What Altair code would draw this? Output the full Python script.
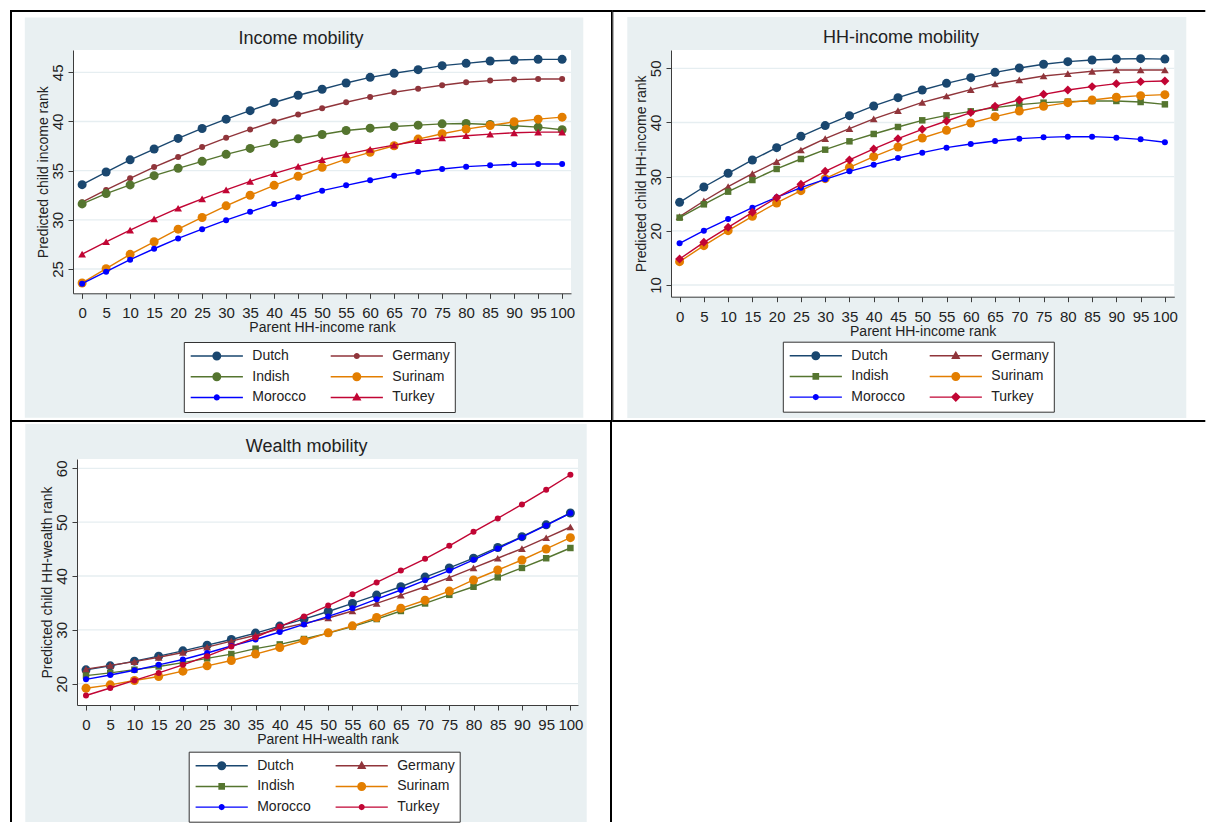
import altair as alt
import pandas as pd

# Parent rank (x) and the series drawn in every panel
RANKS = list(range(0, 101, 5))
SERIES = ["Dutch", "Germany", "Indish", "Surinam", "Morocco", "Turkey"]

# Income mobility: predicted child income rank
inc_dutch = [33.58, 34.86, 36.10, 37.20, 38.28, 39.29, 40.24, 41.10, 41.93, 42.67, 43.28,
             43.92, 44.49, 44.90, 45.27, 45.68, 45.91, 46.15, 46.25, 46.32, 46.32]
inc_germany = [31.79, 33.04, 34.22, 35.37, 36.39, 37.40, 38.34, 39.19, 40.00, 40.71, 41.35,
               41.96, 42.50, 42.97, 43.34, 43.68, 43.99, 44.16, 44.26, 44.32, 44.32]
inc_indish = [31.62, 32.67, 33.55, 34.49, 35.24, 35.95, 36.66, 37.26, 37.77, 38.24, 38.68,
              39.09, 39.32, 39.49, 39.63, 39.76, 39.80, 39.70, 39.56, 39.43, 39.16]
inc_surinam = [23.58, 25.03, 26.49, 27.77, 29.05, 30.24, 31.42, 32.50, 33.51, 34.43, 35.34,
               36.18, 36.86, 37.53, 38.21, 38.75, 39.22, 39.59, 39.97, 40.24, 40.44]
inc_morocco = [23.51, 24.73, 25.95, 27.06, 28.11, 29.05, 29.97, 30.81, 31.62, 32.30, 32.97,
               33.51, 34.02, 34.49, 34.86, 35.17, 35.41, 35.54, 35.64, 35.68, 35.68]
inc_turkey = [26.52, 27.77, 28.95, 30.10, 31.18, 32.13, 33.04, 33.92, 34.70, 35.44, 36.11,
              36.66, 37.16, 37.60, 38.04, 38.34, 38.55, 38.72, 38.85, 38.92, 38.92]

# HH-income mobility: predicted child household income rank
hh_dutch = [25.26, 28.09, 30.62, 33.08, 35.35, 37.45, 39.42, 41.26, 43.05, 44.58, 46.00,
            47.23, 48.28, 49.26, 50.06, 50.74, 51.23, 51.54, 51.72, 51.78, 51.70]
hh_germany = [22.62, 25.51, 28.15, 30.55, 32.77, 34.92, 37.02, 38.86, 40.65, 42.18, 43.72,
              44.89, 46.06, 47.11, 47.85, 48.58, 49.02, 49.45, 49.69, 49.69, 49.69]
hh_indish = [22.43, 24.89, 27.23, 29.38, 31.42, 33.26, 34.98, 36.52, 37.88, 39.17, 40.40,
             41.32, 42.06, 42.74, 43.29, 43.66, 43.85, 43.97, 43.97, 43.78, 43.35]
hh_surinam = [14.31, 17.26, 20.03, 22.68, 25.14, 27.42, 29.63, 31.72, 33.69, 35.48, 37.14,
              38.55, 39.91, 41.08, 42.12, 42.98, 43.66, 44.15, 44.65, 44.95, 45.14]
hh_morocco = [17.69, 20.03, 22.18, 24.28, 26.18, 27.97, 29.51, 30.98, 32.22, 33.45, 34.43,
              35.35, 36.03, 36.58, 37.02, 37.26, 37.38, 37.38, 37.20, 36.89, 36.34]
hh_turkey = [14.80, 17.88, 20.65, 23.42, 26.12, 28.58, 30.98, 33.08, 35.11, 37.02, 38.74,
             40.28, 41.82, 42.98, 44.15, 45.20, 46.00, 46.62, 47.17, 47.54, 47.66]

# Wealth mobility: predicted child household wealth rank
w_dutch = [22.57, 23.31, 24.18, 25.11, 26.10, 27.15, 28.20, 29.40, 30.70, 32.00, 33.40,
           34.90, 36.45, 38.00, 39.80, 41.50, 43.30, 45.30, 47.30, 49.50, 51.70]
w_germany = [22.70, 23.40, 24.10, 24.90, 25.80, 26.80, 27.90, 29.00, 30.20, 31.20, 32.20,
             33.50, 34.90, 36.45, 38.00, 39.70, 41.50, 43.30, 45.10, 47.10, 49.10]
w_indish = [21.50, 22.00, 22.60, 23.20, 23.90, 24.70, 25.50, 26.50, 27.30, 28.30, 29.40,
            30.60, 32.00, 33.50, 34.90, 36.50, 38.00, 39.75, 41.50, 43.30, 45.20]
w_surinam = [19.16, 19.78, 20.59, 21.33, 22.32, 23.31, 24.30, 25.50, 26.72, 28.02, 29.44,
             30.74, 32.29, 34.00, 35.50, 37.20, 39.26, 41.11, 42.97, 45.02, 47.12]
w_morocco = [20.80, 21.60, 22.50, 23.50, 24.50, 25.70, 27.00, 28.20, 29.60, 31.00, 32.50,
             34.00, 35.70, 37.40, 39.20, 41.00, 43.00, 45.10, 47.20, 49.40, 51.70]
w_turkey = [17.80, 19.20, 20.60, 22.00, 23.50, 25.10, 26.90, 28.60, 30.60, 32.50, 34.50,
            36.60, 38.80, 41.00, 43.20, 45.60, 48.20, 50.70, 53.30, 56.00, 58.80]

INC_TICKS = [25, 30, 35, 40, 45]
HH_TICKS = [10, 20, 30, 40, 50]
W_TICKS = [20, 30, 40, 50, 60]

# Stata s2color-like styling
COLORS = {"Dutch": "#1a476f", "Germany": "#90353b", "Indish": "#55752f",
          "Surinam": "#e37e00", "Morocco": "#0000ff", "Turkey": "#c10534"}
FONT = "Liberation Sans"
TXT = "#222222"
AXIS = "#3c3c3c"
BG = "#e9f0f2"
GRID = "#e6eef1"

# marker kind -> (vega shape, size, legend glyph path in unit coordinates)
def _circle(r):
    return f"M{r},0A{r},{r} 0 1,1 {-r},0A{r},{r} 0 1,1 {r},0Z"

MARKERS = {
    "big": ("circle", 81, _circle(0.155)),
    "small": ("circle", 36, _circle(0.105)),
    "triangle": ("triangle-up", 60, "M0,-0.17L0.16,0.11L-0.16,0.11Z"),
    "square": ("square", 42, "M-0.115,-0.115L0.115,-0.115L0.115,0.115L-0.115,0.115Z"),
    "diamond": ("diamond", 80, "M0,-0.17L0.17,0L0,0.17L-0.17,0Z"),
}
STUB = "M-0.9,-0.025L0.9,-0.025L0.9,0.025L-0.9,0.025Z"
LEGEND_SYMBOL = 58 * 58


def panel(values, kinds, title, xtitle, ytitle, xdom, ydom, yticks, W, H,
          cell, strips, bg, title_xy, legend_xy, x0=0.0):
    """One graph cell. Layout coordinates are given relative to the plot's
    top-left corner; x0 moves the plot left of the group origin so that
    cells in one column can keep their own plot position."""
    df = pd.DataFrame(
        [{"series": s, "rank": r, "value": v}
         for s in SERIES for r, v in zip(RANKS, values[s])]
    )
    one = pd.DataFrame({"k": [0]})
    gw = W + x0  # group width (plot right edge)

    xaxis = alt.Axis(values=RANKS, title=xtitle, grid=False, labelOverlap=False,
                     labelFlush=False, tickSize=5, labelPadding=7.5, titlePadding=0,
                     labelFontSize=15, titleFontSize=14, titleFontWeight="normal",
                     labelFont=FONT, titleFont=FONT, labelColor=TXT, titleColor=TXT,
                     domainColor=AXIS, tickColor=AXIS, zindex=1)
    yaxis = alt.Axis(values=yticks, title=ytitle, grid=False, labelOverlap=False,
                     labelFlush=False, tickSize=5, labelAngle=270, labelAlign="center",
                     labelBaseline="bottom", labelPadding=2.5, titlePadding=0.5,
                     labelFontSize=15, titleFontSize=14, titleFontWeight="normal",
                     labelFont=FONT, titleFont=FONT, labelColor=TXT, titleColor=TXT,
                     domainColor=AXIS, tickColor=AXIS, zindex=1, offset=-x0)
    xenc = alt.X("rank:Q", axis=xaxis,
                 scale=alt.Scale(domain=xdom, nice=False, zero=False, range=[x0, gw]))
    yenc = alt.Y("value:Q", scale=alt.Scale(domain=ydom, nice=False, zero=False), axis=yaxis)

    def box(xa, xb, ya, yb, color):
        return alt.Chart(one).mark_rect(color=color, opacity=1).encode(
            x=alt.value(xa + x0), x2=alt.value(xb + x0), y=alt.value(ya), y2=alt.value(yb))

    layers = [box(*cell, "white")]
    layers += [box(*s, "black") for s in strips]
    layers.append(box(*bg, BG))
    layers.append(box(0, W, 0, H, "white"))

    layers.append(
        alt.Chart(pd.DataFrame({"value": yticks}))
        .mark_rule(color=GRID, strokeWidth=1.3)
        .encode(y=yenc, x=alt.value(x0), x2=alt.value(gw))
    )
    layers.append(
        alt.Chart(one).mark_text(font=FONT, fontSize=18, color=TXT, align="center",
                                 baseline="middle")
        .encode(x=alt.value(title_xy[0] + x0), y=alt.value(title_xy[1]),
                text=alt.value(title))
    )

    legend = alt.Legend(orient="none", legendX=legend_xy[0] + x0, legendY=legend_xy[1],
                        direction="horizontal", columns=2, title=None, labelFont=FONT,
                        labelFontSize=14, labelColor=TXT, labelOffset=6.5, labelLimit=300,
                        symbolSize=LEGEND_SYMBOL, symbolStrokeWidth=0, symbolOpacity=1,
                        clipHeight=20, rowPadding=0.7, columnPadding=21, padding=4,
                        strokeColor="#333333", fillColor="white")
    layers.append(
        alt.Chart(df).transform_filter("false")
        .mark_point(filled=True, opacity=1, size=LEGEND_SYMBOL)
        .encode(
            x=xenc, y=yenc,
            color=alt.Color("series:N", legend=legend,
                            scale=alt.Scale(domain=SERIES, range=[COLORS[s] for s in SERIES])),
            shape=alt.Shape("series:N", legend=legend,
                            scale=alt.Scale(domain=SERIES,
                                            range=[STUB + MARKERS[kinds[s]][2] for s in SERIES])),
        )
    )

    for s in SERIES:
        shape, size, _ = MARKERS[kinds[s]]
        base = alt.Chart(df).transform_filter(alt.datum.series == s)
        layers.append(base.mark_line(color=COLORS[s], strokeWidth=1.4).encode(x=xenc, y=yenc))
        layers.append(base.mark_point(filled=True, opacity=1, color=COLORS[s], shape=shape,
                                      size=size).encode(x=xenc, y=yenc))

    return alt.layer(*layers).properties(width=gw, height=H)


income = panel(
    {"Dutch": inc_dutch, "Germany": inc_germany, "Indish": inc_indish,
     "Surinam": inc_surinam, "Morocco": inc_morocco, "Turkey": inc_turkey},
    {"Dutch": "big", "Germany": "small", "Indish": "big", "Surinam": "big",
     "Morocco": "small", "Turkey": "triangle"},
    "Income mobility", "Parent HH-income rank", "Predicted child income rank",
    [-1.9, 101.85], [22.53, 47.27], INC_TICKS, 498, 243.3,
    cell=(-63, 539, -40, 372),
    strips=[(-63, 539, -40, -38), (-63, -61, -40, 372),
            (538, 539, -40, 372), (-63, 539, 370, 372)],
    bg=(-48.2, 510.3, -32.6, 367.7), title_xy=(227.9, -11.5), legend_xy=(110.8, 292),
    x0=-4,
)

hh_income = panel(
    {"Dutch": hh_dutch, "Germany": hh_germany, "Indish": hh_indish,
     "Surinam": hh_surinam, "Morocco": hh_morocco, "Turkey": hh_turkey},
    {"Dutch": "big", "Germany": "triangle", "Indish": "square", "Surinam": "big",
     "Morocco": "small", "Turkey": "diamond"},
    "HH-income mobility", "Parent HH-income rank", "Predicted child HH-income rank",
    [-1.77, 101.94], [7.84, 53.38], HH_TICKS, 503.3, 246.7,
    cell=(-58.7, 534.3, -40, 372),
    strips=[(-58.7, 534.3, -40, -38), (-58.7, -57.7, -40, 372),
            (-58.7, 534.3, 370, 372)],
    bg=(-43.7, 515.3, -33, 368), title_xy=(230, -12), legend_xy=(111.8, 291.7),
)

wealth = panel(
    {"Dutch": w_dutch, "Germany": w_germany, "Indish": w_indish,
     "Surinam": w_surinam, "Morocco": w_morocco, "Turkey": w_turkey},
    {"Dutch": "big", "Germany": "triangle", "Indish": "square", "Surinam": "big",
     "Morocco": "small", "Turkey": "small"},
    "Wealth mobility", "Parent HH-wealth rank", "Predicted child HH-wealth rank",
    [-1.86, 101.57], [16.04, 61.73], W_TICKS, 501, 246,
    cell=(-67, 535, -37, 363),
    strips=[(-67, -65, -37, 363), (533, 535, -37, 363)],
    bg=(-51.7, 509.7, -35, 363), title_xy=(229.7, -11.7), legend_xy=(111.7, 292.7),
)

RESOLVE = dict(x="independent", y="independent", color="independent", shape="independent")

# 2x2 table of cells, packed edge to edge (the fourth cell stays empty)
chart = (
    alt.concat(income, hh_income, wealth, columns=2, spacing=0, align="none", bounds="full")
    .resolve_scale(**RESOLVE)
    .properties(padding={"left": 10, "top": 10, "right": 0, "bottom": 0}, background="white")
    .configure_view(stroke=None)
)

chart.save("out.html", embed_options={"renderer": "svg", "actions": False})
